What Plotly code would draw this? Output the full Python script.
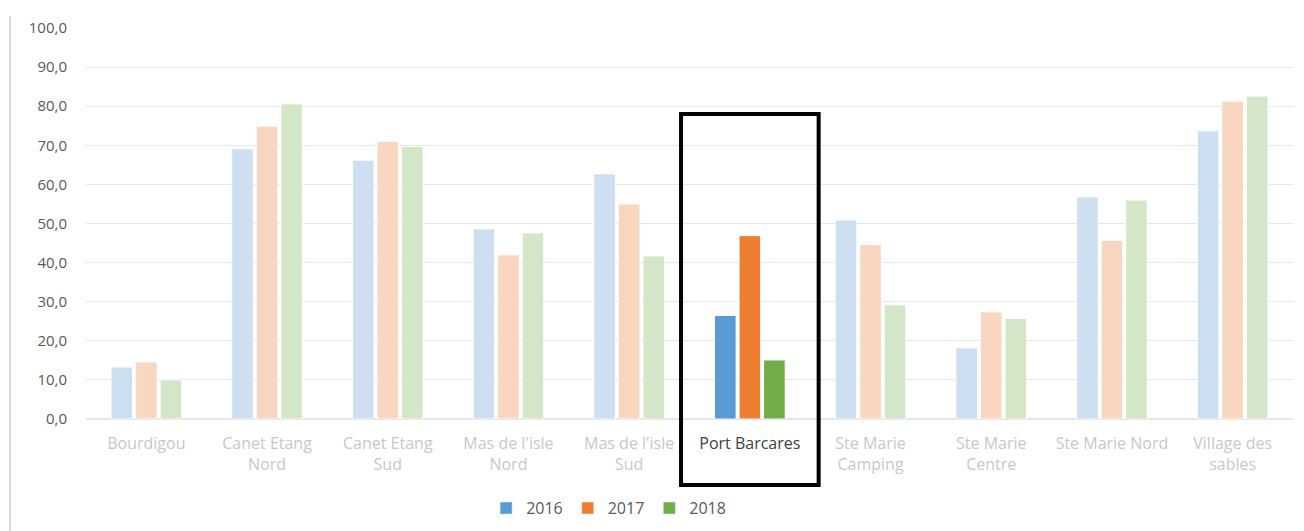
import plotly.graph_objects as go

# Data
sites = ["Bourdigou", "Canet Etang<br>Nord", "Canet Etang<br>Sud", "Mas de l'isle<br>Nord",
         "Mas de l'isle<br>Sud", "Port Barcares", "Ste Marie<br>Camping", "Ste Marie<br>Centre",
         "Ste Marie Nord", "Village des<br>sables"]
years = ["2016", "2017", "2018"]
vals_2016 = [13.3, 69.1, 66.2, 48.6, 62.7, 26.5, 50.9, 18.2, 56.8, 73.7]
vals_2017 = [14.6, 74.9, 71.0, 42.0, 55.0, 46.9, 44.6, 27.4, 45.7, 81.3]
vals_2018 = [10.0, 80.6, 69.7, 47.6, 41.7, 15.1, 29.2, 25.7, 56.0, 82.6]
highlight = "Port Barcares"

full_colors = ["#5B9BD5", "#ED7D31", "#70AD47"]
faded_colors = ["#CDDFF0", "#F9D6C0", "#D4E6C8"]

fig = go.Figure()
for year, vals, full, faded in zip(years, [vals_2016, vals_2017, vals_2018], full_colors, faded_colors):
    colors = [full if s == highlight else faded for s in sites]
    fig.add_trace(go.Bar(
        x=sites, y=vals, name=year, showlegend=False,
        marker=dict(color=colors, line=dict(color="white", width=1)),
    ))

# legend swatches in full colours, on a hidden overlay axis so they don't take bar slots
for year, full in zip(years, full_colors):
    fig.add_trace(go.Bar(x=[None], y=[None], name=year, xaxis="x2", yaxis="y2",
                         marker=dict(color=full)))

ticktext = [f'<span style="color:#404040">{s}</span>' if s == highlight
            else f'<span style="color:#C8C8C8">{s}</span>' for s in sites]

# highlight box around the selected site (paper coords so it isn't clipped at the axis)
hi = sites.index(highlight)
n = len(sites)
fig.add_shape(type="rect", xref="paper", yref="paper",
              x0=(hi + 0.5 - 0.57) / n, x1=(hi + 0.5 + 0.57) / n, y0=-0.169, y1=0.78,
              line=dict(color="black", width=4), layer="above")
# chart area border on the left
fig.add_shape(type="line", xref="paper", yref="paper",
              x0=-0.063, x1=-0.063, y0=-0.35, y1=1.03,
              line=dict(color="#D9D9D9", width=2))

fig.update_layout(
    width=1304, height=531,
    margin=dict(l=78, r=19, t=20, b=120, autoexpand=False),
    paper_bgcolor="white", plot_bgcolor="white",
    separators=",.",
    font=dict(family="Open Sans, sans-serif", size=15, color="#595959"),
    barmode="group", bargap=0.39, bargroupgap=0.12,
    showlegend=True,
    legend=dict(orientation="h", x=0.433, xanchor="center", y=-0.228, yanchor="middle",
                font=dict(size=16, color="#595959"), traceorder="normal"),
    xaxis=dict(tickmode="array", tickvals=sites, ticktext=ticktext,
               showgrid=False, showline=False, ticks="", range=[-0.5, 9.5],
               tickfont=dict(size=16), automargin=False, ticklabelstandoff=13),
    yaxis=dict(range=[0, 100], dtick=10, tickformat=".1f", showgrid=True,
               gridcolor="#E6E6E6", gridwidth=1, zeroline=True, zerolinecolor="#E6E6E6",
               ticks="", showline=False, automargin=False, ticklabelstandoff=18,
               tickfont=dict(size=15, color="#595959")),
    xaxis2=dict(overlaying="x", visible=False),
    yaxis2=dict(overlaying="y", visible=False),
)

fig.write_html("out.html")
